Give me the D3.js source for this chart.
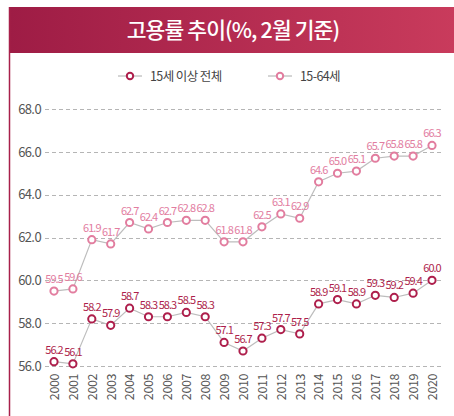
<!DOCTYPE html>
<html>
<head>
<meta charset="utf-8">
<script src="https://cdn.jsdelivr.net/npm/d3@7"></script>
<style>
  body { margin: 0; background: #fff; }
  svg { display: block; }
</style>
</head>
<body>
<div id="chart"></div>
<script>
// data
var years = ["2000","2001","2002","2003","2004","2005","2006","2007","2008","2009","2010",
             "2011","2012","2013","2014","2015","2016","2017","2018","2019","2020"];
var total15 = [56.2,56.1,58.2,57.9,58.7,58.3,58.3,58.5,58.3,57.1,56.7,
               57.3,57.7,57.5,58.9,59.1,58.9,59.3,59.2,59.4,60.0];
var age1564 = [59.5,59.6,61.9,61.7,62.7,62.4,62.7,62.8,62.8,61.8,61.8,
               62.5,63.1,62.9,64.6,65.0,65.1,65.7,65.8,65.8,66.3];
var yTicks = [56, 58, 60, 62, 64, 66, 68];
var seriesNames = ["15세 이상 전체", "15-64세"];

var W = 454, H = 416;
var font = "'Noto Sans CJK KR', 'Noto Sans', sans-serif";

var svg = d3.select("#chart")
  .append("svg")
    .attr("width", W)
    .attr("height", H)
    .style("font-family", font);

// header gradient
var grad = svg.append("defs").append("linearGradient")
    .attr("id", "hdr").attr("x1", "0%").attr("x2", "100%");
grad.append("stop").attr("offset", "0%").attr("stop-color", "#9e1c45");
grad.append("stop").attr("offset", "100%").attr("stop-color", "#c93b5c");

svg.append("rect")
    .attr("x", 9).attr("y", 7).attr("width", W - 9).attr("height", 46)
    .attr("fill", "url(#hdr)");
svg.append("line")
    .attr("x1", 9.5).attr("x2", 9.5).attr("y1", 7).attr("y2", H)
    .attr("stroke", "#a8204a").attr("stroke-width", 1.5);

svg.append("text")
    .attr("x", 233).attr("y", 38)
    .attr("text-anchor", "middle")
    .attr("fill", "#fff")
    .attr("font-size", 21.5)
    .attr("font-weight", 500)
    .attr("letter-spacing", -0.9)
    .text("고용률 추이(%, 2월 기준)");

var colors = ["#ae1f4c", "#e27d9f"];

// legend
var legendX = [130, 280];
seriesNames.forEach(function(name, i) {
  var g = svg.append("g").attr("transform", "translate(" + legendX[i] + ",76)");
  g.append("line").attr("x1", -12).attr("x2", 12)
    .attr("stroke", "#aaa").attr("stroke-width", 1);
  g.append("circle").attr("r", 3.2)
    .attr("fill", "#fff").attr("stroke", colors[i]).attr("stroke-width", 2);
  g.append("text").attr("x", 20).attr("y", 4.5)
    .attr("font-size", 12.5).attr("fill", "#444")
    .attr("letter-spacing", -0.6)
    .text(name);
});

// scales
var x = d3.scalePoint().domain(years).range([54, 432]);
var y = d3.scaleLinear().domain([56, 68]).range([366, 109]);

// grid
svg.append("g")
  .selectAll("line")
  .data(yTicks)
  .enter()
  .append("line")
    .attr("x1", 45).attr("x2", 443)
    .attr("y1", function(d) { return Math.round(y(d)) + 0.5; })
    .attr("y2", function(d) { return Math.round(y(d)) + 0.5; })
    .attr("stroke", "#b5b5b5")
    .attr("stroke-dasharray", "4,3");

// y axis labels
var yAxis = svg.append("g")
    .attr("transform", "translate(41,0)")
    .call(d3.axisLeft(y).tickValues(yTicks).tickFormat(d3.format(".1f")).tickSize(0).tickPadding(0));
yAxis.select(".domain").remove();
yAxis.selectAll("text")
    .attr("font-family", font)
    .attr("font-size", 13)
    .attr("fill", "#555")
    .attr("letter-spacing", -0.6);

// x axis labels (rotated)
var xAxis = svg.append("g")
    .attr("transform", "translate(0,374)")
    .call(d3.axisBottom(x).tickSize(0).tickPadding(0));
xAxis.select(".domain").remove();
xAxis.selectAll("text")
    .attr("font-family", font)
    .attr("font-size", 12.5)
    .attr("fill", "#555")
    .attr("letter-spacing", -0.4)
    .attr("text-anchor", "end")
    .attr("dy", "0.35em")
    .attr("transform", "rotate(-90)")
    .attr("x", 0).attr("y", 0);

var line = d3.line()
    .x(function(d, i) { return x(years[i]); })
    .y(function(d) { return y(d); });

[age1564, total15].forEach(function(vals) {
  var si = vals === total15 ? 0 : 1;
  svg.append("path")
      .datum(vals)
      .attr("d", line)
      .attr("fill", "none")
      .attr("stroke", "#bdbdbd")
      .attr("stroke-width", 1.2);

  svg.selectAll(null)
      .data(vals)
      .enter()
      .append("circle")
        .attr("cx", function(d, i) { return x(years[i]); })
        .attr("cy", function(d) { return y(d); })
        .attr("r", 3.6)
        .attr("fill", "#fff")
        .attr("stroke", colors[si])
        .attr("stroke-width", 2);

  svg.selectAll(null)
      .data(vals)
      .enter()
      .append("text")
        .attr("x", function(d, i) { return x(years[i]); })
        .attr("y", function(d) { return y(d) - 8; })
        .attr("text-anchor", "middle")
        .attr("font-size", 11)
        .attr("letter-spacing", -1)
        .attr("fill", colors[si])
        .text(function(d) { return d.toFixed(1); });
});
</script>
</body>
</html>
